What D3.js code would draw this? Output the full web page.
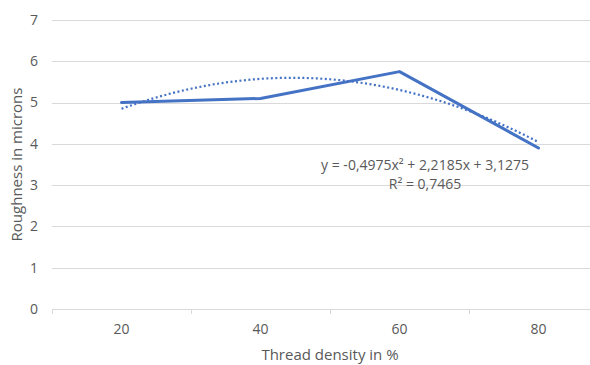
<!DOCTYPE html>
<html>
<head>
<meta charset="utf-8">
<script src="https://cdn.jsdelivr.net/npm/d3@7"></script>
<style>
  body { margin: 0; background: #fff; overflow: hidden; }
  text { font-family: "Open Sans", Lato, sans-serif; fill: #595959; }
</style>
</head>
<body>
<div id="chart"></div>
<script>
// data
let categories = ["20", "40", "60", "80"];
let roughness = [5.0, 5.1, 5.75, 3.9];
let yTicks = [0, 1, 2, 3, 4, 5, 6, 7];
// polynomial trendline as printed on the chart: a*x^2 + b*x + c, x = 1..4
let trendCoef = [-0.4975, 2.2185, 3.1275];
let trendLabel = ["y = -0,4975x² + 2,2185x + 3,1275", "R² = 0,7465"];

let width = 590, height = 365;
// plot runs past the right edge in the original, it's cropped there
let margin = {top: 20, right: -18, bottom: 56, left: 52};

let svg = d3.select("#chart").append("svg")
  .attr("width", width)
  .attr("height", height);

let x = d3.scaleBand()
  .domain(categories)
  .range([margin.left, width - margin.right]);

let y = d3.scaleLinear()
  .domain([0, 7])
  .range([height - margin.bottom, margin.top]);

// gridlines
svg.append("g")
  .selectAll("line")
  .data(yTicks)
  .enter().append("line")
  .attr("x1", margin.left)
  .attr("x2", width - margin.right)
  .attr("y1", d => Math.round(y(d)) + 0.5)
  .attr("y2", d => Math.round(y(d)) + 0.5)
  .attr("stroke", "#d9d9d9")
  .attr("stroke-width", 1);

// y tick labels
svg.append("g")
  .selectAll("text")
  .data(yTicks)
  .enter().append("text")
  .attr("x", 38)
  .attr("y", d => y(d))
  .attr("dy", "0.35em")
  .attr("text-anchor", "end")
  .style("font-size", "14px")
  .text(d => d);

// x axis ticks between categories
let tickPos = [margin.left].concat(categories.map(c => x(c) + x.bandwidth()));
svg.append("g")
  .selectAll("line")
  .data(tickPos)
  .enter().append("line")
  .attr("x1", d => Math.round(d) + 0.5)
  .attr("x2", d => Math.round(d) + 0.5)
  .attr("y1", Math.round(y(0)))
  .attr("y2", Math.round(y(0)) + 5)
  .attr("stroke", "#d9d9d9");

svg.append("g")
  .selectAll("text")
  .data(categories)
  .enter().append("text")
  .attr("x", d => x(d) + x.bandwidth() / 2)
  .attr("y", y(0) + 20)
  .attr("dy", "0.35em")
  .attr("text-anchor", "middle")
  .style("font-size", "14px")
  .text(d => d);

// axis titles
svg.append("text")
  .attr("transform", "translate(17," + ((y(0) + y(7)) / 2) + ")rotate(-90)")
  .attr("text-anchor", "middle")
  .attr("dy", "0.35em")
  .style("font-size", "15px")
  .text("Roughness in microns");

svg.append("text")
  .attr("x", (margin.left + width - margin.right) / 2)
  .attr("y", 355)
  .attr("dy", "0.35em")
  .attr("text-anchor", "middle")
  .style("font-size", "15px")
  .text("Thread density in %");

// trendline, sampled from the printed polynomial
let trendPts = d3.range(1, 4.001, 0.05).map(t => ({
  t: t,
  v: trendCoef[0] * t * t + trendCoef[1] * t + trendCoef[2]
}));
let tx = d3.scaleLinear()
  .domain([1, 4])
  .range([x(categories[0]) + x.bandwidth() / 2, x(categories[3]) + x.bandwidth() / 2]);

svg.append("path")
  .datum(trendPts)
  .attr("fill", "none")
  .attr("stroke", "#4472C4")
  .attr("stroke-width", 2.2)
  .attr("stroke-dasharray", "2,2.5")
  .attr("d", d3.line().x(d => tx(d.t)).y(d => y(d.v)));

// data line
svg.append("path")
  .datum(roughness)
  .attr("fill", "none")
  .attr("stroke", "#4472C4")
  .attr("stroke-width", 3)
  .attr("stroke-linejoin", "round")
  .attr("stroke-linecap", "round")
  .attr("d", d3.line()
    .x((d, i) => x(categories[i]) + x.bandwidth() / 2)
    .y(d => y(d)));

// trendline label
svg.append("g")
  .selectAll("text")
  .data(trendLabel)
  .enter().append("text")
  .attr("x", 425)
  .attr("y", (d, i) => 165 + i * 19)
  .attr("dy", "0.35em")
  .attr("text-anchor", "middle")
  .style("font-size", "14px")
  .text(d => d);
</script>
</body>
</html>
